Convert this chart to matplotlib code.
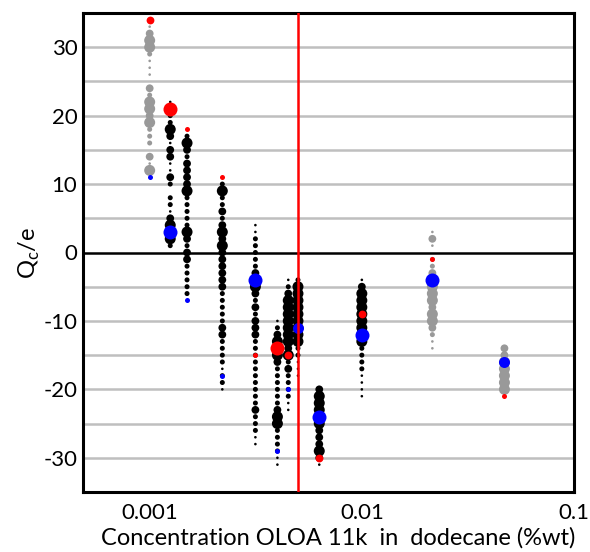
import matplotlib
matplotlib.use("Agg")
import matplotlib.pyplot as plt
import numpy as np

plt.rcParams['font.family'] = ['Lato', 'DejaVu Sans']

# Concentrations (%wt) of each measured dispersion
conc = [0.001, 0.00125, 0.0015, 0.0022, 0.00315, 0.004, 0.0045, 0.005, 0.0063, 0.01, 0.0215, 0.047]
col_color = ['gray', 'black', 'black', 'black', 'black', 'black', 'black', 'black', 'black', 'black', 'gray', 'gray']
# highest charge value in each column (integer charges, one row per unit downward)
y_top = [33, 22, 17, 10, 4, -10, -4, -4, -20, -4, 3, -14]
# dot size class (0 = none, 1 tiny .. 4 large) from y_top downwards
size_cls = [
    [1, 3, 4, 4, 2, 1, 1, 1, 0, 3, 2, 4, 4, 3, 4, 2, 2, 2, 0, 3, 1, 4],
    [1, 4, 2, 2, 4, 3, 1, 3, 3, 1, 1, 3, 2, 0, 2, 2, 1, 3, 4, 4, 4, 2],
    [2, 4, 3, 2, 3, 3, 3, 3, 4, 2, 2, 2, 2, 2, 4, 3, 2, 3, 3, 2, 2, 2, 2, 2],
    [2, 4, 2, 2, 3, 2, 3, 4, 3, 4, 3, 3, 3, 3, 3, 3, 2, 2, 2, 2, 2, 3, 3, 2, 2, 2, 2, 1, 2, 2, 1],
    [1, 1, 2, 2, 2, 2, 2, 3, 4, 4, 3, 2, 3, 2, 3, 3, 3, 2, 2, 2, 2, 2, 2, 2, 2, 2, 2, 3, 2, 2, 2, 1, 1],
    [1, 2, 3, 4, 4, 4, 3, 2, 2, 2, 2, 2, 2, 3, 4, 4, 2, 2, 2, 2, 1, 1],
    [1, 2, 3, 4, 4, 4, 4, 4, 4, 4, 3, 4, 2, 3, 2, 2, 2, 2, 1, 1],
    [2, 4, 4, 4, 4, 4, 4, 4, 4, 4, 2, 2, 1, 1, 1],
    [3, 4, 4, 4, 4, 4, 3, 3, 3, 4, 3, 1],
    [1, 3, 4, 4, 4, 4, 4, 4, 4, 4, 2, 2, 2, 2, 1, 1, 1, 1],
    [1, 3, 1, 0, 2, 2, 3, 4, 4, 4, 4, 3, 4, 4, 3, 2, 1, 1],
    [3, 3, 4, 4, 4, 4, 4],
]
# highlighted values (red and blue) per column: (charge, size class); None = absent
red_pts = [(34, 3), (21, 5), (18, 2), (11, 2), (-15, 2), (-14, 5), (-15, 3), None, (-30, 3), (-9, 3), (-1, 2), (-21, 2)]
blue_pts = [(11, 2), (3, 5), (-7, 2), (-18, 2), (-4, 5), (-29, 2), (-20, 2), (-11, 4), (-24, 5), (-12, 5), (-4, 5), (-16, 4)]
cmc_line = 0.005

diam_px = {1: 2.6, 2: 5.0, 3: 7.8, 4: 11.0, 5: 14.0}
colors = {'gray': '#999999', 'black': '#000000'}

def s_of(c):
    return (diam_px[c] * 0.72) ** 2

fig = plt.figure(figsize=(5.9, 5.52), dpi=100)
ax = fig.add_axes([83 / 590, 1 - 492 / 552, (574 - 83) / 590, (492 - 13) / 552])
ax.set_xscale('log')
ax.set_xlim(0.000485, 0.1)
ax.set_ylim(-35, 35)

for yv in range(-35, 36, 5):
    if yv == 0:
        ax.axhline(0, color='black', lw=1.8, zorder=1)
    elif abs(yv) < 35:
        ax.axhline(yv, color='#bfbfbf', lw=1.8, zorder=1)

for x, col, top, sz in zip(conc, col_color, y_top, size_cls):
    ys = [top - i for i, c in enumerate(sz) if c > 0]
    ss = [s_of(c) for c in sz if c > 0]
    ax.scatter([x] * len(ys), ys, s=ss, color=colors[col], linewidths=0, zorder=3)

for x, rp, bp in zip(conc, red_pts, blue_pts):
    if rp is not None:
        ax.scatter([x], [rp[0]], s=s_of(rp[1]), color='#ff0000', linewidths=0, zorder=4)
    if bp is not None:
        ax.scatter([x], [bp[0]], s=s_of(bp[1]), color='#0000ff', linewidths=0, zorder=4)

ax.axvline(cmc_line, color='#ff0000', lw=1.8, zorder=5)

for sp in ax.spines.values():
    sp.set_linewidth(2.2)
    sp.set_color('black')

ax.set_yticks([-30, -20, -10, 0, 10, 20, 30])
ax.set_yticklabels(['-30', '-20', '-10', '0', '10', '20', '30'])
ax.set_xticks([0.001, 0.01, 0.1])
ax.set_xticklabels(['0.001', '0.01', '0.1'])
ax.minorticks_off()
ax.tick_params(axis='both', length=0, labelsize=16)
ax.tick_params(axis='y', pad=4)
ax.tick_params(axis='x', pad=8)

ax.set_xlabel('Concentration OLOA 11k  in  dodecane (%wt)', fontsize=17, labelpad=0)
ax.xaxis.set_label_coords((338 - 83) / (574 - 83), -(527 - 492) / (492 - 13))
ax.set_ylabel(r'Q$_\mathregular{c}$/e', fontsize=17)
ax.yaxis.set_label_coords(-(83 - 42) / (574 - 83), 0.5)

fig.savefig('out.png', dpi=100)
